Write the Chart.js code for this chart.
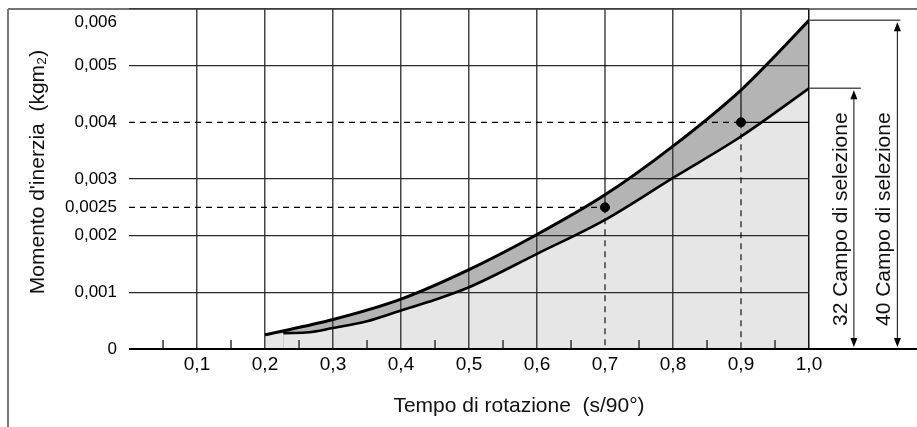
<!DOCTYPE html>
<html>
<head>
<meta charset="utf-8">
<script src="https://cdn.jsdelivr.net/npm/chart.js@4.4.0/dist/chart.umd.min.js"></script>
<style>
  body { margin: 0; background: #fff; }
  canvas { display: block; }
</style>
</head>
<body>
<canvas id="inertiaChart" width="917" height="427"></canvas>
<script>
// --- data ---
const xTickValues = [0.1, 0.2, 0.3, 0.4, 0.5, 0.6, 0.7, 0.8, 0.9, 1.0];
const minorTicks = [0.05, 0.15, 0.25, 0.35, 0.45, 0.55, 0.65, 0.75, 0.85, 0.95];
const yTickValues = [0, 0.001, 0.002, 0.0025, 0.003, 0.004, 0.005, 0.006];

const upperX = [0.2, 0.3, 0.4, 0.5, 0.6, 0.7, 0.8, 0.9, 0.95, 1.0];
const upperY = [0.00025, 0.00052, 0.00088, 0.0014, 0.00202, 0.00272, 0.00358, 0.00457, 0.00517, 0.0058];

const lowerX = [0.2, 0.227, 0.26, 0.3, 0.35, 0.4, 0.45, 0.5, 0.6, 0.7, 0.8, 0.9, 1.0];
const lowerY = [0.00025, 0.00028, 0.00029, 0.00037, 0.00049, 0.00068, 0.00087, 0.00109, 0.00168, 0.00228, 0.00302, 0.00375, 0.0046];

// reading examples marked on the chart
const guideX = [0.7, 0.9];
const guideY = [0.0025, 0.004];
const guideSolidRight = [false, true];

// selection ranges drawn on the right (lower curve -> 32, upper curve -> 40)
const rangeLabels = ['32 Campo di selezione', '40 Campo di selezione'];
const rangeArrowX = [1.066, 1.13];

const xTitle = 'Tempo di rotazione  (s/90°)';
const yTitle = "Momento d'inerzia  (kgm₂)";

const FONT = "'Liberation Sans', Arial, Helvetica, sans-serif";

function toPoints(xs, ys) {
    return xs.map((x, i) => ({ x: x, y: ys[i] }));
}

function strokeLine(ctx, x1, y1, x2, y2) {
    ctx.beginPath();
    ctx.moveTo(x1, y1);
    ctx.lineTo(x2, y2);
    ctx.stroke();
}

const overlay = {
    id: 'overlay',
    beforeDatasetsDraw(chart) {
        const { ctx, chartArea: a, scales: { x, y } } = chart;
        ctx.save();

        // small ticks at the half steps
        ctx.strokeStyle = '#333';
        ctx.lineWidth = 1.5;
        minorTicks.forEach(v => {
            const px = x.getPixelForValue(v);
            strokeLine(ctx, px, a.bottom, px, a.bottom - 9);
        });

        // guide lines to the two example points
        ctx.strokeStyle = '#000';
        ctx.lineWidth = 1.1;
        guideX.forEach((gx, i) => {
            const px = x.getPixelForValue(gx);
            const py = y.getPixelForValue(guideY[i]);
            ctx.setLineDash([]);
            strokeLine(ctx, px, a.top, px, py);
            if (guideSolidRight[i]) strokeLine(ctx, px, py, a.right, py);
            ctx.setLineDash([6, 5]);
            strokeLine(ctx, px, py, px, a.bottom);
            strokeLine(ctx, a.left, py, px, py);
        });
        ctx.setLineDash([]);

        // outer frame and x axis
        ctx.strokeStyle = '#444';
        ctx.lineWidth = 1.6;
        strokeLine(ctx, 8, a.top, chart.width, a.top);
        ctx.strokeStyle = '#777';
        ctx.lineWidth = 2;
        strokeLine(ctx, 8, a.top, 8, chart.height);
        ctx.strokeStyle = '#000';
        ctx.lineWidth = 2;
        strokeLine(ctx, a.left, a.bottom, chart.width, a.bottom);
        ctx.restore();
    },
    afterDraw(chart) {
        const { ctx, chartArea: a, scales: { x, y } } = chart;
        ctx.save();

        const ends = [lowerY[lowerY.length - 1], upperY[upperY.length - 1]];
        rangeArrowX.forEach((rx, i) => {
            const ax = x.getPixelForValue(rx);
            const top = y.getPixelForValue(ends[i]);
            // horizontal line from the curve end
            ctx.strokeStyle = '#555';
            ctx.lineWidth = 1.5;
            strokeLine(ctx, a.right, top, ax + (i === 0 ? 7 : 3), top);
            // double arrow
            ctx.strokeStyle = '#333';
            ctx.lineWidth = 1.2;
            strokeLine(ctx, ax, top + 6, ax, a.bottom - 6);
            ctx.fillStyle = '#000';
            ctx.beginPath();
            ctx.moveTo(ax, top + 2);
            ctx.lineTo(ax - 3.5, top + 11);
            ctx.lineTo(ax + 3.5, top + 11);
            ctx.closePath();
            ctx.fill();
            ctx.beginPath();
            ctx.moveTo(ax, a.bottom - 2);
            ctx.lineTo(ax - 3.5, a.bottom - 11);
            ctx.lineTo(ax + 3.5, a.bottom - 11);
            ctx.closePath();
            ctx.fill();
            // rotated label
            ctx.save();
            ctx.translate(ax - 13, a.bottom - 23);
            ctx.rotate(-Math.PI / 2);
            ctx.font = `21px ${FONT}`;
            ctx.fillStyle = '#111';
            ctx.textAlign = 'left';
            ctx.textBaseline = 'middle';
            ctx.fillText(rangeLabels[i], 0, 0);
            ctx.restore();
        });

        // axis titles
        ctx.fillStyle = '#111';
        ctx.font = `21px ${FONT}`;
        ctx.textAlign = 'center';
        ctx.textBaseline = 'middle';
        ctx.fillText(xTitle, 519, 406);
        ctx.save();
        ctx.translate(38, 172);
        ctx.rotate(-Math.PI / 2);
        ctx.fillText(yTitle, 0, 0);
        ctx.restore();

        // top tick label sits just under the frame
        ctx.font = `17px ${FONT}`;
        ctx.fillStyle = '#000';
        ctx.textAlign = 'right';
        ctx.fillText('0,006', a.left - 12, y.getPixelForValue(0.006) + 13);
        ctx.restore();
    }
};

const chart = new Chart(document.getElementById('inertiaChart'), {
    type: 'line',
    data: {
        datasets: [
            {
                label: 'punti',
                data: toPoints(guideX, guideY),
                showLine: false,
                pointRadius: 4.5,
                pointBackgroundColor: '#000',
                pointBorderColor: '#000',
                fill: false
            },
            {
                label: 'min',
                data: toPoints(lowerX, lowerY),
                borderColor: '#000',
                borderWidth: 2.6,
                backgroundColor: '#e6e6e6',
                fill: 'origin',
                pointRadius: 0,
                cubicInterpolationMode: 'monotone',
                segment: {
                    borderColor: c => c.p0DataIndex === 0 ? 'rgba(0,0,0,0)' : undefined
                }
            },
            {
                label: 'max',
                data: toPoints(upperX, upperY),
                borderColor: '#000',
                borderWidth: 3,
                backgroundColor: '#b4b4b4',
                fill: 'origin',
                pointRadius: 0,
                cubicInterpolationMode: 'monotone'
            }
        ]
    },
    options: {
        responsive: false,
        animation: false,
        layout: { padding: { top: 9, right: 108, left: 0, bottom: 0 } },
        plugins: {
            legend: { display: false },
            tooltip: { enabled: false },
            filler: { drawTime: 'beforeDraw' }
        },
        scales: {
            x: {
                type: 'linear',
                min: 0,
                max: 1.0,
                afterBuildTicks: s => { s.ticks = xTickValues.map(v => ({ value: v })); },
                afterFit: s => { s.height = 78; s.paddingLeft = 0; s.paddingRight = 0; },
                border: { display: false },
                grid: {
                    drawTicks: false,
                    lineWidth: 1.5,
                    color: c => {
                        if (guideX.includes(c.tick.value)) return 'rgba(0,0,0,0)';
                        return c.tick.value === 1.0 ? '#111' : '#444';
                    }
                },
                ticks: {
                    padding: 4,
                    color: '#000',
                    font: { family: FONT, size: 19 },
                    callback: v => v.toFixed(1).replace('.', ',')
                }
            },
            y: {
                min: 0,
                max: 0.006,
                afterBuildTicks: s => { s.ticks = yTickValues.map(v => ({ value: v })); },
                afterFit: s => { s.width = 129; s.paddingTop = 0; s.paddingBottom = 0; },
                border: { display: false },
                grid: {
                    drawTicks: false,
                    lineWidth: 1.3,
                    color: c => guideY.includes(c.tick.value) ? 'rgba(0,0,0,0)' : '#2a2a2a'
                },
                ticks: {
                    padding: 12,
                    color: '#000',
                    font: { family: FONT, size: 17 },
                    callback: v => v === 0.006 ? '' : String(v).replace('.', ',')
                }
            }
        }
    },
    plugins: [overlay]
});
</script>
</body>
</html>
